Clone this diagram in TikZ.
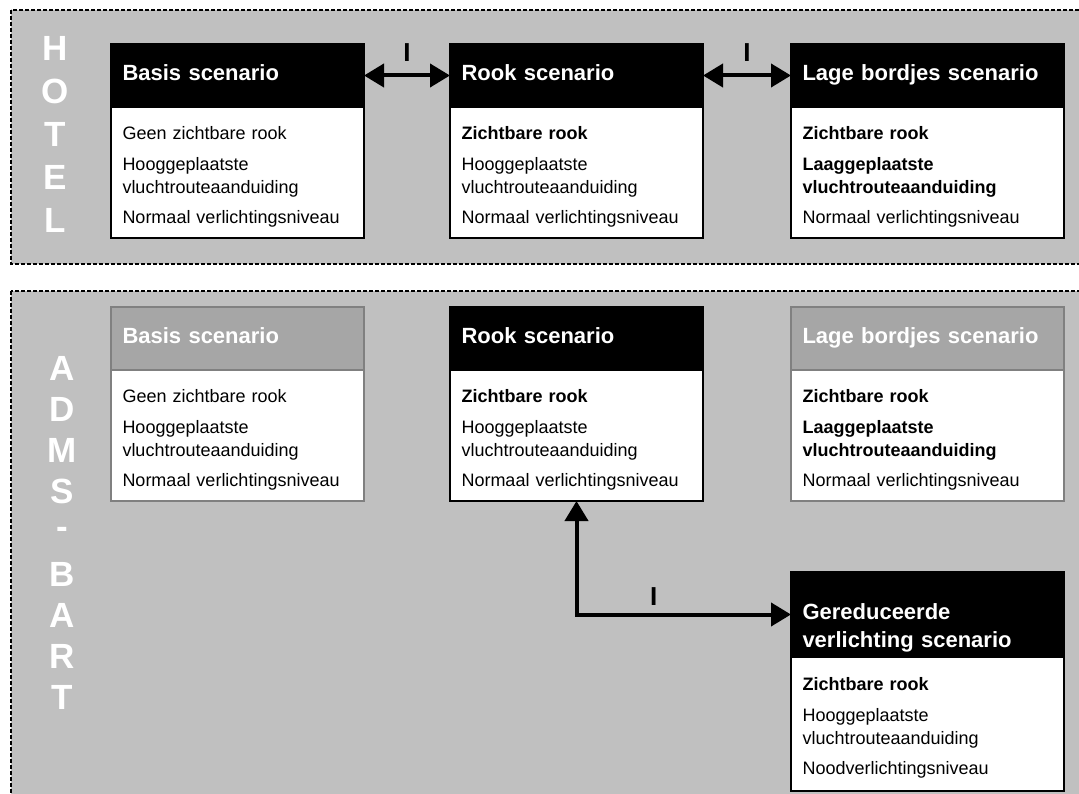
\documentclass[tikz,border=0pt]{standalone}
\usepackage{fontspec}
\setmainfont{Liberation Sans}
\usetikzlibrary{positioning,arrows.meta}
\definecolor{panelgray}{RGB}{192,192,192}
\definecolor{hdrgray}{RGB}{166,166,166}
\definecolor{edgegray}{RGB}{128,128,128}
\begin{document}
\begin{tikzpicture}[x=1pt,y=-1pt,>={Triangle[length=20pt,width=23pt]},
	panel/.style={fill=panelgray,draw=black,line width=1.2pt,dash pattern=on 4pt off 2pt},
	letter/.style={text=white,font=\fontsize{35}{35}\selectfont\bfseries,inner sep=0pt},
	narrow/.style={minimum width=253pt,text width=230pt},
	wide/.style={minimum width=273pt,text width=250pt},
	hdr/.style={anchor=north west,fill=black,draw=black,line width=1.5pt,text=white,
		font=\fontsize{22}{28}\selectfont\bfseries,align=left,minimum height=63pt,
		inner xsep=11.5pt,inner ysep=0pt,outer sep=0pt,text depth=5pt},
	body/.style={fill=white,draw=black,line width=1.5pt,font=\fontsize{18}{23}\selectfont,
		align=left,minimum height=131pt,inner xsep=11.5pt,inner ysep=0pt,outer sep=0pt,
		text height=21pt},
	ghdr/.style={hdr,fill=hdrgray,draw=edgegray,line width=1.2pt},
	gbody/.style={body,draw=edgegray,line width=1.2pt},
	conn/.style={<->,line width=4pt},
	lbl/.style={font=\fontsize{26}{26}\selectfont\bfseries,inner sep=0pt,above=12pt}]
	\useasboundingbox (0,0) rectangle (1079,794);
	\clip (0,0) rectangle (1079,794);
	% panels
	\draw[panel] (11,10) rectangle (1095,264);
	\draw[panel] (11,291) rectangle (1095,810);
	\foreach \l [count=\i] in {H,O,T,E,L}
		\node[letter] (hotel\i) at (55,{48+43*(\i-1)}) {\l};
	\foreach \l [count=\i] in {A,D,M,S,-,B,A,R,T}
		\node[letter] (adms\i) at (62,{368+41.2*(\i-1)}) {\l};
	% hotel
	\node[hdr,narrow] (hbasish) at (111,44) {Basis scenario};
	\node[body,narrow,below=0pt of hbasish] (hbasisb) {Geen zichtbare rook\\[8pt]Hooggeplaatste\\vluchtrouteaanduiding\\[7pt]Normaal verlichtingsniveau};
	\node[hdr,narrow] (hrookh) at (450,44) {Rook scenario};
	\node[body,narrow,below=0pt of hrookh] (hrookb) {\textbf{Zichtbare rook}\\[8pt]Hooggeplaatste\\vluchtrouteaanduiding\\[7pt]Normaal verlichtingsniveau};
	\node[hdr,wide] (hlageh) at (791,44) {Lage bordjes scenario};
	\node[body,wide,below=0pt of hlageh] (hlageb) {\textbf{Zichtbare rook}\\[8pt]\textbf{Laaggeplaatste}\\\textbf{vluchtrouteaanduiding}\\[7pt]Normaal verlichtingsniveau};
	% adms-bart
	\node[ghdr,narrow] (abasish) at (111,307) {Basis scenario};
	\node[gbody,narrow,below=0pt of abasish] (abasisb) {Geen zichtbare rook\\[8pt]Hooggeplaatste\\vluchtrouteaanduiding\\[7pt]Normaal verlichtingsniveau};
	\node[hdr,narrow] (arookh) at (450,307) {Rook scenario};
	\node[body,narrow,below=0pt of arookh] (arookb) {\textbf{Zichtbare rook}\\[8pt]Hooggeplaatste\\vluchtrouteaanduiding\\[7pt]Normaal verlichtingsniveau};
	\node[ghdr,wide] (alageh) at (791,307) {Lage bordjes scenario};
	\node[gbody,wide,below=0pt of alageh] (alageb) {\textbf{Zichtbare rook}\\[8pt]\textbf{Laaggeplaatste}\\\textbf{vluchtrouteaanduiding}\\[7pt]Normaal verlichtingsniveau};
	\node[hdr,wide,minimum height=85pt] (geredh) at (791,572) {Gereduceerde\\verlichting scenario};
	\node[body,wide,minimum height=134pt,below=0pt of geredh] (geredb) {\textbf{Zichtbare rook}\\[8pt]Hooggeplaatste\\vluchtrouteaanduiding\\[7pt]Noodverlichtingsniveau};
	% arrows
	\draw[conn] (hbasish.east) -- node[lbl]{I} (hrookh.west);
	\draw[conn] (hrookh.east) -- node[lbl]{I} (hlageh.west);
	\draw[conn] (arookb.south) |- node[lbl,pos=0.68,above=7pt]{I} (geredh.west);
\end{tikzpicture}
\end{document}
